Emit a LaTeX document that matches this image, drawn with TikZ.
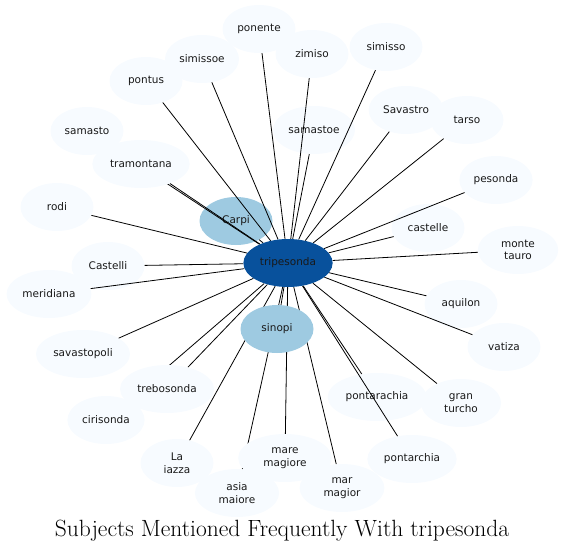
\documentclass[tikz,border=0pt]{standalone}
\usepackage{fontspec}
\setsansfont{DejaVu Sans}
\usetikzlibrary{shapes.geometric}
\definecolor{hubblue}{RGB}{8,81,156}
\definecolor{nearblue}{RGB}{158,202,225}
\definecolor{paleblue}{RGB}{247,251,255}
\pgfdeclarelayer{front}
\pgfsetlayers{main,front}

\begin{document}
\begin{tikzpicture}[x=1pt,y=-1pt,
    term/.style={ellipse,fill=paleblue,minimum width=73pt,minimum height=48pt,inner xsep=3.5pt,inner ysep=2pt,align=center,text=black!90,font=\sffamily\fontsize{10.5}{12.5}\selectfont},
    pair/.style={term,inner xsep=11.5pt},
    near/.style={term,fill=nearblue},
    hub/.style={term,fill=hubblue},
    link/.style={draw=black,line width=0.8pt}]
  \useasboundingbox (0,0) rectangle (564,554);
  \node[term] (ponente) at (259,29) {ponente};
  \node[term] (simissoe) at (202,59) {simissoe};
  \node[term] (pontus) at (146,81) {pontus};
  \node[term] (zimiso) at (312,54) {zimiso};
  \node[term] (simisso) at (386,47) {simisso};
  \node[term] (samastoe) at (314,130) {samastoe};
  \node[term] (savastro) at (406,110) {Savastro};
  \node[term] (tarso) at (467,120) {tarso};
  \node[term] (pesonda) at (496,180) {pesonda};
  \node[term] (castelle) at (428,228) {castelle};
  \node[pair] (montetauro) at (518,250) {monte\\tauro};
  \node[term] (samasto) at (87,131) {samasto};
  \node[term] (rodi) at (57,207) {rodi};
  \node[near] (carpi) at (236,221) {Carpi};
  \node[term] (meridiana) at (49,294) {meridiana};
  \node[term] (castelli) at (108,266) {Castelli};
  \node[term] (aquilon) at (461,304) {aquilon};
  \node[term] (savastopoli) at (83,354) {savastopoli};
  \node[term] (vatiza) at (504,347) {vatiza};
  \node[term] (cirisonda) at (106,420) {cirisonda};
  \node[term] (pontarachia) at (377,397) {pontarachia};
  \node[pair] (granturcho) at (461,403) {gran\\turcho};
  \node[pair] (laiazza) at (177,463) {La\\iazza};
  \node[pair] (asiamaiore) at (237,493) {asia\\maiore};
  \node[term] (pontarchia) at (412,459) {pontarchia};
  \node[pair] (marmagior) at (342,488) {mar\\magior};
  \begin{pgfonlayer}{front}
    \node[term] (tramontana) at (141,164) {tramontana};
    \node[term] (trebosonda) at (167,389) {trebosonda};
    \node[pair] (maremagiore) at (285,458) {mare\\magiore};
    \node[near] (sinopi) at (277,329) {sinopi};
    \node[hub] (tripesonda) at (288,263) {tripesonda};
  \end{pgfonlayer}
  \draw[link] (tripesonda) -- (ponente);
  \draw[link] (tripesonda) -- (simissoe);
  \draw[link] (tripesonda) -- (pontus);
  \draw[link] (tripesonda) -- (zimiso);
  \draw[link] (tripesonda) -- (simisso);
  \draw[link] (tripesonda) -- (samastoe);
  \draw[link] (tripesonda) -- (savastro);
  \draw[link] (tripesonda) -- (tarso);
  \draw[link] (tripesonda) -- (pesonda);
  \draw[link] (tripesonda) -- (castelle);
  \draw[link] (tripesonda) -- (montetauro);
  \draw[link] (tripesonda) -- (samasto);
  \draw[link] (tripesonda) -- (tramontana);
  \draw[link] (tripesonda) -- (rodi);
  \draw[link] (tripesonda) -- (carpi);
  \draw[link] (tripesonda) -- (castelli);
  \draw[link] (tripesonda) -- (meridiana);
  \draw[link] (tripesonda) -- (aquilon);
  \draw[link] (tripesonda) -- (sinopi);
  \draw[link] (tripesonda) -- (savastopoli);
  \draw[link] (tripesonda) -- (vatiza);
  \draw[link] (tripesonda) -- (trebosonda);
  \draw[link] (tripesonda) -- (cirisonda);
  \draw[link] (tripesonda) -- (pontarachia);
  \draw[link] (tripesonda) -- (granturcho);
  \draw[link] (tripesonda) -- (laiazza);
  \draw[link] (tripesonda) -- (maremagiore);
  \draw[link] (tripesonda) -- (asiamaiore);
  \draw[link] (tripesonda) -- (pontarchia);
  \draw[link] (tripesonda) -- (marmagior);
  \node[font=\fontsize{23.5}{28}\selectfont] (title) at (282,531) {Subjects Mentioned Frequently With tripesonda};
\end{tikzpicture}
\end{document}
